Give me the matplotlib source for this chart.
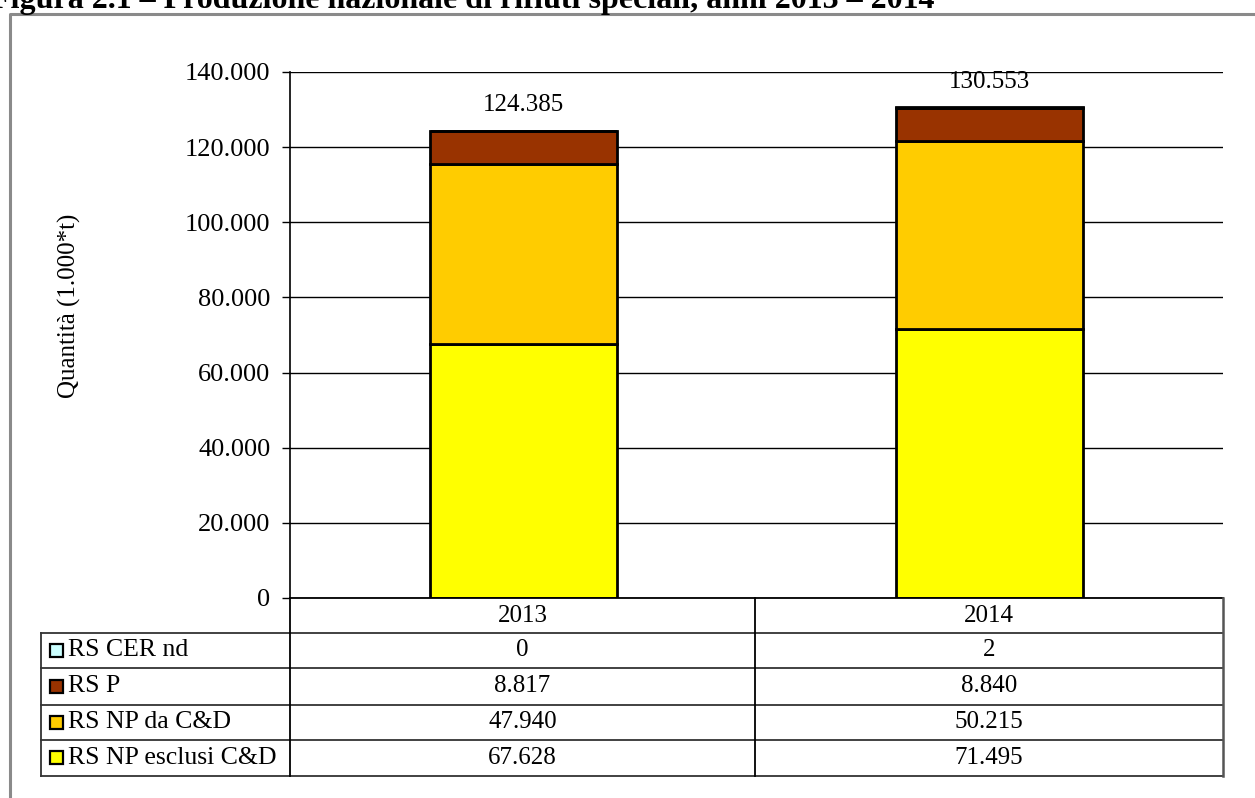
import matplotlib.pyplot as plt
from matplotlib.ticker import FuncFormatter
from matplotlib.patches import Rectangle
import numpy as np

plt.rcParams['font.family'] = ['Liberation Serif', 'DejaVu Serif']

years = ['2013', '2014']
rs_np_esclusi = [67628, 71495]
rs_np_cd = [47940, 50215]
rs_p = [8817, 8840]
rs_cer_nd = [0, 2]
totals = [124385, 130553]

# bottom to top in the stack, table rows listed top to bottom
series = [
    ('RS NP esclusi C&D', rs_np_esclusi, '#FFFF00'),
    ('RS NP da C&D', rs_np_cd, '#FFCC00'),
    ('RS P', rs_p, '#993300'),
    ('RS CER nd', rs_cer_nd, '#CCFFFF'),
]

def it(v):
    return f'{v:,}'.replace(',', '.')

W, H = 1255, 798
fig = plt.figure(figsize=(W / 100, H / 100), dpi=100)

# plot area in pixels
x0, x1, y_top, y_zero = 290, 1223, 72, 598
ax = fig.add_axes([x0 / W, 1 - y_zero / H, (x1 - x0) / W, (y_zero - y_top) / H])

x = np.arange(len(years))
bottom = np.zeros(len(years))
for name, vals, col in series:
    ax.bar(x, vals, 0.4, bottom=bottom, color=col, edgecolor='black',
           linewidth=2, zorder=3)
    bottom += np.array(vals)

for xi, tot in zip(x, totals):
    ax.text(xi, tot + 6800, it(tot), ha='center', va='center', fontsize=18)

ax.set_xlim(-0.5, 1.5)
ax.set_ylim(0, 140000)
ax.set_yticks(np.arange(0, 140001, 20000))
ax.yaxis.set_major_formatter(FuncFormatter(lambda v, p: it(int(v))))
ax.tick_params(axis='y', labelsize=19, length=6, width=1, direction='out', pad=8)
ax.set_xticks([])
ax.grid(axis='y', color='black', linewidth=1, zorder=0)
for s in ['top', 'right', 'bottom']:
    ax.spines[s].set_visible(False)
ax.spines['left'].set_linewidth(1.2)
ax.set_ylabel('Quantità (1.000*t)', fontsize=18)
ax.yaxis.set_label_coords(-0.224, 0.555)

# overlay in pixel coordinates for the data table, frame and title
ov = fig.add_axes([0, 0, 1, 1])
ov.set_xlim(0, W)
ov.set_ylim(H, 0)
ov.axis('off')

col_mid = 755
tab_left = 41
rows_y = [598, 633, 668, 705, 740, 776]
lw = 1.3
# header row with the years
ov.plot([x0, x1], [598, 598], color='black', lw=lw)
for y in rows_y[1:]:
    ov.plot([tab_left, x1], [y, y], color='#333333', lw=lw)
ov.plot([x0, x0], [598, 776], color='black', lw=lw)
ov.plot([col_mid, col_mid], [598, 776], color='black', lw=lw)
ov.plot([x1, x1], [598, 776], color='#555555', lw=1.8)
ov.plot([tab_left, tab_left], [633, 776], color='#333333', lw=lw)

col_x = [(x0 + col_mid) / 2, (col_mid + x1) / 2]
for cx, yr in zip(col_x, years):
    ov.text(cx, (598 + 633) / 2, yr, ha='center', va='center', fontsize=18)

for i, (name, vals, col) in enumerate(reversed(series)):
    yc = (rows_y[i + 1] + rows_y[i + 2]) / 2
    ov.add_patch(Rectangle((50, yc - 7), 13, 13, facecolor=col,
                           edgecolor='black', lw=1.6))
    ov.text(68, yc, name, ha='left', va='center', fontsize=18.5)
    for cx, v in zip(col_x, vals):
        ov.text(cx, yc, it(v), ha='center', va='center', fontsize=18)

# outer frame
ov.plot([10, 10, W + 5], [H + 5, 14, 14], color='#8a8a8a', lw=2.2)

# figure caption, partly above the top edge
ov.text(-9, 8, 'Figura 2.1 – Produzione nazionale di rifiuti speciali, anni 2013 – 2014',
        ha='left', va='baseline', fontsize=23, fontweight='bold', clip_on=False)

fig.savefig('out.png', dpi=100)
